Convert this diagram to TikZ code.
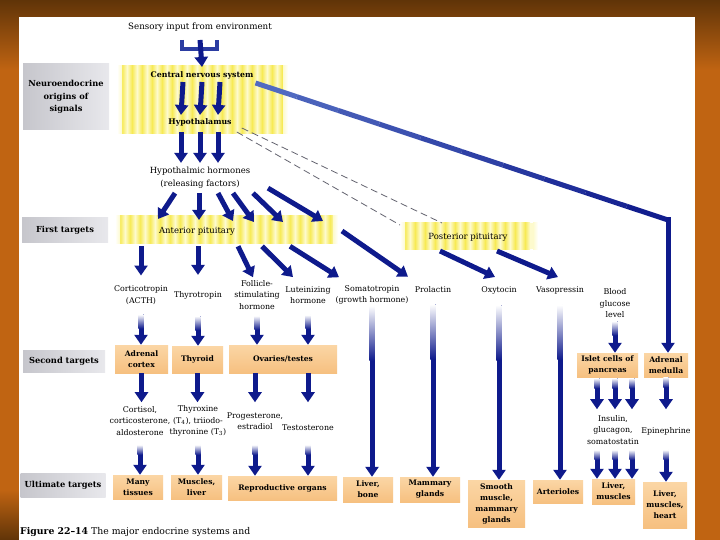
\documentclass[tikz,border=0pt]{standalone}
\usepackage{fontspec}
\setmainfont{DejaVu Serif}
\usetikzlibrary{arrows.meta,calc}
\definecolor{navyA}{RGB}{14,26,140}
\definecolor{lightB}{RGB}{110,140,215}
\definecolor{ylight}{RGB}{253,250,205}
\definecolor{ydark}{RGB}{247,234,85}
\definecolor{orA}{RGB}{251,214,165}
\definecolor{orB}{RGB}{246,192,128}
\definecolor{grA}{RGB}{198,198,204}
\definecolor{grB}{RGB}{232,232,236}
\definecolor{brownT}{RGB}{96,52,8}
\definecolor{orangeS}{RGB}{192,100,18}
\definecolor{dashG}{RGB}{100,100,112}

\newcommand\yband[4]{%
  \fill[ylight] (#1,#2) rectangle (#3,#4);
  \pgfmathtruncatemacro\ybn{(#3-#1)/10-1}%
  \foreach \k in {0,...,\ybn}{%
    \shade[left color=ylight,right color=ylight,middle color=ydark]
      ({#1+10*\k},#2) rectangle ({#1+10*\k+10},#4);
  }%
  \shade[left color=white,right color=ylight] (#1,#2) rectangle ({#1+5},#4);
  \shade[left color=ylight,right color=white] ({#3-5},#2) rectangle (#3,#4);
}
\newcommand\varr[3]{%
  \draw[arr] #1 -- #2;
  \shade[top color=white,bottom color=navyA] ($#1+(-2.6,0)$) rectangle ($#1+(2.6,#3)$);
}

\begin{document}
\begin{tikzpicture}[x=1pt,y=-1pt,
 txt/.style={font=\fontsize{7.9}{11.5}\selectfont,align=center,inner sep=0pt},
 ttxt/.style={font=\fontsize{8.5}{12.5}\selectfont,align=center,inner sep=0pt},
 btxt/.style={font=\bfseries\fontsize{7.8}{11}\selectfont,align=center,inner sep=0pt},
 glabel/.style={left color=grA,right color=grB,font=\bfseries\fontsize{8.3}{12.5}\selectfont,align=center,inner sep=0pt},
 obox/.style={top color=orA,bottom color=orB,font=\bfseries\fontsize{7.6}{11}\selectfont,align=center,inner sep=0pt},
 arr/.style={draw=navyA,line width=5pt,-{Triangle[width=13pt,length=10pt]}},
 dline/.style={draw=dashG,line width=0.8pt,dash pattern=on 7pt off 4pt}]
\useasboundingbox (0,0) rectangle (720,540);
% background
\shade[top color=brownT,bottom color=orangeS] (0,0) rectangle (720,70);
\fill[orangeS] (0,70) rectangle (720,540);
\shade[top color=orangeS,bottom color=brownT] (0,490) rectangle (19,540);
\fill[white] (19,17) rectangle (695,540);
% yellow bands
\yband{117}{66}{288}{134}
\yband{115}{216}{338}{243}
\yband{400}{223}{538}{249}
% grey row labels
\node[glabel,minimum width=86pt,minimum height=66pt] (lab1) at (66,97) {Neuroendocrine\\origins of\\signals};
\node[glabel,minimum width=86pt,minimum height=24pt] (lab2) at (65,230) {First targets};
\node[glabel,minimum width=82pt,minimum height=22pt] (lab3) at (64,361) {Second targets};
\node[glabel,minimum width=85pt,minimum height=24pt] (lab4) at (63,485) {Ultimate targets};
% top texts
\node[ttxt,font=\fontsize{8.7}{11}\selectfont] (sens) at (200,27) {Sensory input from environment};
\node[btxt] (cns) at (202,75) {Central nervous system};
\node[btxt] (hyp) at (200,122) {Hypothalamus};
\node[ttxt] (hh) at (200,177.5) {Hypothalmic hormones\\(releasing factors)};
\node[ttxt] (ap) at (197,231) {Anterior pituitary};
\node[ttxt] (pp) at (468,237) {Posterior pituitary};
% hormones
\node[txt] (acth) at (141,295) {Corticotropin\\(ACTH)};
\node[txt] (tsh) at (198,295) {Thyrotropin};
\node[txt] (fsh) at (257,295) {Follicle-\\stimulating\\hormone};
\node[txt] (lh) at (308,295) {Luteinizing\\hormone};
\node[txt] (gh) at (372,295) {Somatotropin\\(growth hormone)};
\node[txt] (prl) at (433,290) {Prolactin};
\node[txt] (oxy) at (499,290) {Oxytocin};
\node[txt] (vas) at (560,290) {Vasopressin};
\node[txt] (bgl) at (615,303.5) {Blood\\glucose\\level};
% second targets
\node[obox,minimum width=53pt,minimum height=28pt] (adc) at (141.5,359) {Adrenal\\cortex};
\node[obox,minimum width=51pt,minimum height=27pt] (thy) at (197.5,359.5) {Thyroid};
\node[obox,minimum width=108pt,minimum height=28pt] (ovt) at (283,359) {Ovaries/testes};
\node[obox,minimum width=61pt,minimum height=24pt] (isl) at (607.5,365) {Islet cells of\\pancreas};
\node[obox,minimum width=44pt,minimum height=24pt] (adm) at (666,365) {Adrenal\\medulla};
% products
\node[txt] (cort) at (140,421) {Cortisol,\\corticosterone,\\aldosterone};
\node[txt] (thx) at (198,421) {Thyroxine\\(T\textsubscript{4}), triiodo-\\thyronine (T\textsubscript{3})};
\node[txt] (prog) at (255,421) {Progesterone,\\estradiol};
\node[txt] (testo) at (308,428) {Testosterone};
\node[txt] (ins) at (613,430) {Insulin,\\glucagon,\\somatostatin};
\node[txt] (epi) at (666,431) {Epinephrine};
% ultimate targets
\node[obox,minimum width=50pt,minimum height=24pt] (mtis) at (138,487) {Many\\tissues};
\node[obox,minimum width=51pt,minimum height=24pt] (mlv) at (196.5,487) {Muscles,\\liver};
\node[obox,minimum width=109pt,minimum height=24pt] (rep) at (282.5,488) {Reproductive organs};
\node[obox,minimum width=50pt,minimum height=25pt] (lbone) at (368,489.5) {Liver,\\bone};
\node[obox,minimum width=60pt,minimum height=25pt] (mam) at (430,489.5) {Mammary\\glands};
\node[obox,minimum width=57pt,minimum height=47pt] (smm) at (496.5,503.5) {Smooth\\muscle,\\mammary\\glands};
\node[obox,minimum width=50pt,minimum height=23pt] (art) at (558,491.5) {Arterioles};
\node[obox,minimum width=43pt,minimum height=25pt] (lm) at (613.5,491.5) {Liver,\\muscles};
\node[obox,minimum width=44pt,minimum height=46pt] (lmh) at (665,505) {Liver,\\muscles,\\heart};
% caption
\node[anchor=west,inner sep=0pt,font=\fontsize{9.3}{11}\selectfont] (cap) at (20,532) {\textbf{Figure 22–14} The major endocrine systems and};

% dashed lines hypothalamus -> posterior pituitary
\coordinate (hyA) at ($(hyp.east)+(10,6)$);
\coordinate (hyB) at ($(hyp.east)+(5,10)$);
\coordinate (ppA) at (442,223);
\coordinate (ppB) at (400,225);
\draw[dline] (hyA) -- (ppA);
\draw[dline] (hyB) -- (ppB);

% CNS -> adrenal medulla
\coordinate (cnsR) at ($(cns.east)+(2,8)$);
\coordinate (corner) at (668,220);
\foreach \i in {0,...,9}{%
  \pgfmathtruncatemacro\pcv{30+\i*7.5}%
  \draw[line width=5pt,navyA!\pcv!lightB] ($(cnsR)!{\i/10}!(corner)$) -- ($(cnsR)!{(\i+1)/10}!(corner)$);
}
\fill[navyA] ($(corner)+(-2.5,-2.5)$) rectangle ($(corner)+(2.5,2.5)$);
\draw[arr] (corner) -- (corner |- adm.north);

% sensory trident
\coordinate (t1) at (182,40);
\coordinate (t2) at (200,40);
\coordinate (t3) at (217,40);
\draw[navyA!70!lightB,line width=4pt] (t1) -- ++(0,9) -| (t3);
\draw[arr] (t2) -- ($(cns.north)+(0,-4)$);

% CNS -> hypothalamus -> hormones
\foreach \dx in {-19,0,18}{%
  \draw[arr] ($(cns.south)+(\dx,3)$) -- ($(hyp.north)+(\dx,-3)$);
  \draw[arr] ($(hyp.south)+(\dx,6)$) -- ($(hh.north)+(\dx,-4)$);
}

% hormones -> anterior pituitary
\coordinate (ap1) at (158,219);
\coordinate (ap2) at (199,220);
\coordinate (ap3) at (233,221);
\coordinate (ap4) at (254,222);
\coordinate (ap5) at (283,222);
\coordinate (ap6) at (323,221);
\draw[arr] ($(hh.south)+(-25,5)$) -- (ap1);
\draw[arr] ($(hh.south)+(-1,5)$) -- (ap2);
\draw[arr] ($(hh.south)+(18,5)$) -- (ap3);
\draw[arr] ($(hh.south)+(33,5)$) -- (ap4);
\draw[arr] ($(hh.south)+(53,5)$) -- (ap5);
\draw[arr] ($(hh.south)+(68,0)$) -- (ap6);

% anterior pituitary -> hormones
\draw[arr] ($(ap.south)+(-56,11)$) -- ($(acth.north)+(0,-10)$);
\draw[arr] ($(ap.south)+(1,11)$) -- ($(tsh.north)+(0,-16)$);
\draw[arr] ($(ap.south)+(41,11)$) -- ($(fsh.north)+(-4,-3)$);
\draw[arr] ($(ap.south)+(65,11)$) -- ($(lh.north)+(-15,-9)$);
\draw[arr] ($(ap.south)+(93,11)$) -- ($(gh.north)+(-33,-8)$);
\coordinate (apR) at (342,231);
\draw[arr] (apR) -- ($(prl.north)+(-25,-10)$);

% posterior pituitary -> hormones
\coordinate (ppa) at (440,251);
\coordinate (ppb) at (497,251);
\draw[arr] (ppa) -- ($(oxy.north)+(-4,-9)$);
\draw[arr] (ppb) -- ($(vas.north)+(-2,-9)$);

% hormones -> second targets
\coordinate (s1) at ($(acth.south)+(0,10)$);
\coordinate (s2) at ($(tsh.south)+(0,17)$);
\coordinate (s3) at ($(fsh.south)+(0,6)$);
\coordinate (s4) at ($(lh.south)+(0,11)$);
\varr{(s1)}{(s1 |- adc.north)}{14}
\varr{(s2)}{(s2 |- thy.north)}{14}
\varr{(s3)}{(s3 |- ovt.north)}{14}
\varr{(s4)}{(s4 |- ovt.north)}{14}

% second targets -> products
\draw[arr] (adc.south) -- ($(adc.south |- cort.north)+(0,-4)$);
\draw[arr] (thy.south) -- ($(thy.south |- cort.north)+(0,-4)$);
\draw[arr] (prog.north |- ovt.south) -- ($(prog.north |- cort.north)+(0,-4)$);
\draw[arr] (testo.north |- ovt.south) -- ($(testo.north |- cort.north)+(0,-4)$);

% products -> ultimate targets
\coordinate (u1) at ($(cort.south)+(0,9)$);
\coordinate (u2) at ($(thx.south |- cort.south)+(0,9)$);
\coordinate (u3) at ($(prog.south |- cort.south)+(0,9)$);
\coordinate (u4) at ($(testo.south |- cort.south)+(0,9)$);
\varr{(u1)}{(u1 |- mtis.north)}{10}
\varr{(u2)}{(u2 |- mlv.north)}{10}
\varr{(u3)}{(u3 |- rep.north)}{10}
\varr{(u4)}{(u4 |- rep.north)}{10}

% long lines
\coordinate (g0) at ($(gh.south)+(0,1)$);
\coordinate (p0) at ($(prl.south)+(0,11)$);
\coordinate (o0) at ($(oxy.south)+(0,11)$);
\coordinate (v0) at ($(vas.south)+(0,11)$);
\varr{(g0)}{(g0 |- lbone.north)}{55}
\varr{(p0)}{(p0 |- mam.north)}{55}
\varr{(o0)}{(o0 |- smm.north)}{55}
\varr{(v0)}{(v0 |- art.north)}{55}

% blood glucose branch
\coordinate (b0) at ($(bgl.south)+(0,3)$);
\varr{(b0)}{(b0 |- isl.north)}{14}
\foreach \dx [count=\n] in {-16,2,19}{%
  \coordinate (i\n) at ($(ins.north |- isl.south)+(\dx,1)$);
  \varr{(i\n)}{($(ins.north)+(\dx,-6)$)}{10}
  \coordinate (j\n) at ($(ins.south)+(\dx,5)$);
  \varr{(j\n)}{($(ins.south |- lm.north)+(\dx,0)$)}{10}
}
% adrenal medulla branch
\coordinate (e0) at (adm.south);
\varr{(e0)}{($(adm.south |- ins.north)+(0,-6)$)}{10}
\coordinate (e1) at ($(epi.south |- ins.south)+(0,5)$);
\varr{(e1)}{(e1 |- lmh.north)}{10}
\end{tikzpicture}
\end{document}
